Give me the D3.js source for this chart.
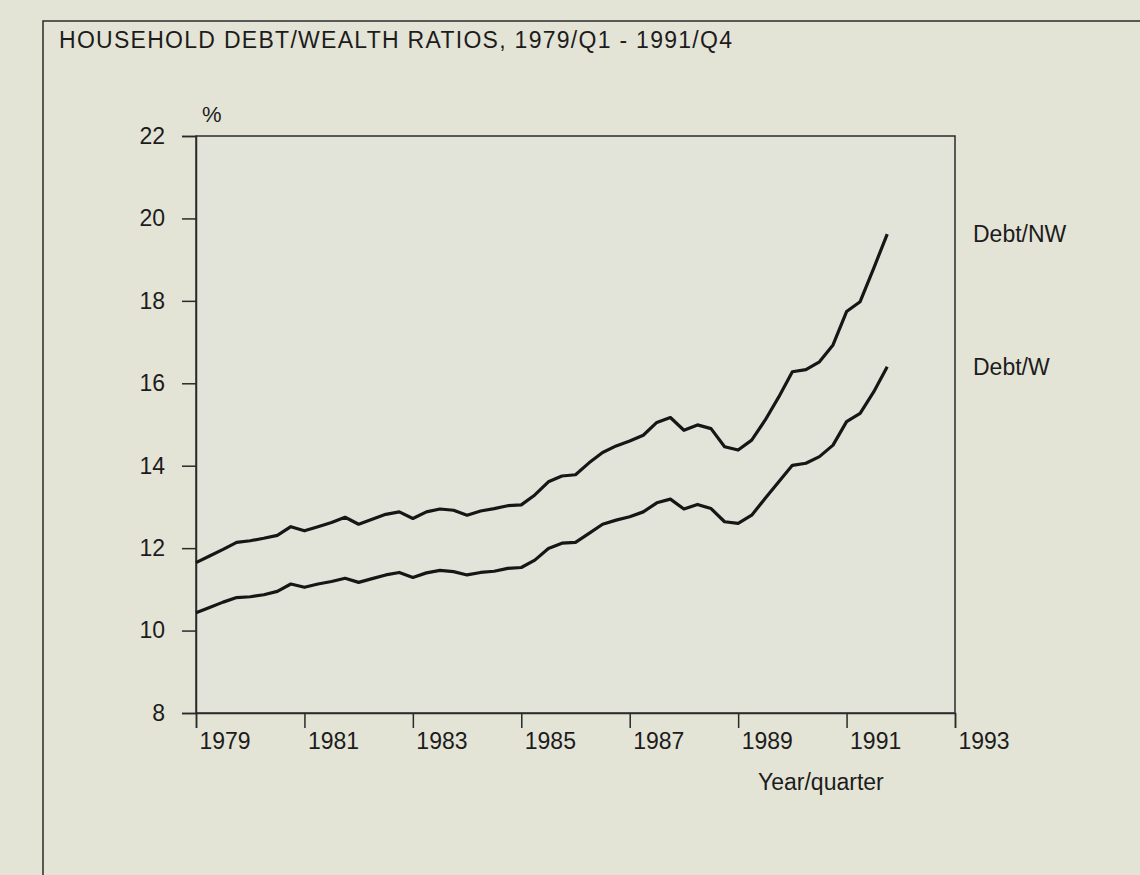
<!DOCTYPE html>
<html>
<head>
<meta charset="utf-8">
<script src="https://cdn.jsdelivr.net/npm/d3@7"></script>
<style>
  html, body { margin: 0; padding: 0; background: #e4e4d6; }
  svg { display: block; }
  text { font-family: "Liberation Sans", Arial, sans-serif; fill: #1c1c1c; }
</style>
</head>
<body>
<div id="chart"></div>
<script>
// quarters 1979/Q1 .. 1991/Q4
var startYear = 1979;
var debtNW = [
  11.65, 11.81, 11.97, 12.14, 12.18, 12.24, 12.31, 12.52, 12.42, 12.52, 12.62, 12.75,
  12.58, 12.70, 12.82, 12.88, 12.72, 12.88, 12.95, 12.92, 12.80, 12.90, 12.96, 13.03,
  13.05, 13.29, 13.61, 13.75, 13.78, 14.07, 14.32, 14.48, 14.60, 14.74, 15.05, 15.17,
  14.86, 14.99, 14.90, 14.46, 14.38, 14.62, 15.11, 15.67, 16.28, 16.33, 16.52, 16.93,
  17.74, 17.98, 18.79, 19.62
];
var debtW = [
  10.43, 10.56, 10.69, 10.80, 10.82, 10.87, 10.95, 11.13, 11.05, 11.13, 11.19, 11.27,
  11.17, 11.26, 11.35, 11.41, 11.29, 11.40, 11.46, 11.43, 11.35, 11.41, 11.44, 11.51,
  11.53, 11.71, 11.99, 12.12, 12.14, 12.36, 12.58, 12.68, 12.76, 12.88, 13.10, 13.19,
  12.95, 13.06, 12.96, 12.64, 12.60, 12.80, 13.21, 13.61, 14.01, 14.06, 14.22, 14.50,
  15.07, 15.27, 15.79, 16.40
];
var seriesNames = ["Debt/NW", "Debt/W"];
var yearTicks = [1979, 1981, 1983, 1985, 1987, 1989, 1991, 1993];
var pctTicks = [8, 10, 12, 14, 16, 18, 20, 22];

var W = 1140, H = 875;
var margin = {top: 136, left: 196, right: 185, bottom: 162};
var width = W - margin.left - margin.right;
var height = H - margin.top - margin.bottom;

var svg = d3.select("#chart").append("svg")
  .attr("width", W)
  .attr("height", H);

// page frame
svg.append("path")
  .attr("d", "M43," + H + "V21H" + W)
  .attr("fill", "none")
  .attr("stroke", "#2a2a2a")
  .attr("stroke-width", 1.5);

svg.append("text")
  .attr("x", 59).attr("y", 48)
  .attr("textLength", 673)
  .attr("lengthAdjust", "spacing")
  .style("font-size", "23px")
  .text("HOUSEHOLD DEBT/WEALTH RATIOS, 1979/Q1 - 1991/Q4");

var x = d3.scaleLinear().domain([1979, 1993]).range([0, width]);
var y = d3.scaleLinear().domain([8, 22]).range([height, 0]);

var g = svg.append("g")
  .attr("transform", "translate(" + [margin.left, margin.top] + ")");

// box
g.append("rect")
  .attr("width", width).attr("height", height)
  .attr("fill", "#e3e4d9")
  .attr("stroke", "#2a2a2a")
  .attr("stroke-width", 1.5);

var yAxis = g.append("g")
  .call(d3.axisLeft(y).tickValues(pctTicks).tickSize(14).tickPadding(17));
var xAxis = g.append("g")
  .attr("transform", "translate(0," + height + ")")
  .call(d3.axisBottom(x).tickValues(yearTicks).tickFormat(d3.format("d")).tickSize(15).tickPadding(5));

[yAxis, xAxis].forEach(function(a) {
  a.select(".domain").attr("stroke", "#2a2a2a").attr("stroke-width", 1.5);
  a.selectAll(".tick line").attr("stroke", "#2a2a2a").attr("stroke-width", 1.5);
  a.selectAll(".tick text")
    .attr("fill", "#1c1c1c")
    .style("font-size", "23px")
    .style("font-family", "'Liberation Sans', Arial, sans-serif");
});
xAxis.selectAll(".tick text").attr("text-anchor", "start").attr("x", 3).attr("dy", "0.71em");

g.append("text")
  .attr("x", 6).attr("y", -14)
  .style("font-size", "22px")
  .text("%");

g.append("text")
  .attr("x", 562).attr("y", height + 77)
  .style("font-size", "23px")
  .text("Year/quarter");

var line = d3.line()
  .x(function(d, i) { return x(startYear + i / 4); })
  .y(function(d) { return y(d); });

[debtNW, debtW].forEach(function(s, k) {
  g.append("path")
    .datum(s)
    .attr("d", line)
    .attr("fill", "none")
    .attr("stroke", "#161616")
    .attr("stroke-width", 3.2)
    .attr("stroke-linejoin", "round");
  g.append("text")
    .attr("x", width + 18)
    .attr("y", y(s[s.length - 1]))
    .attr("dy", "0.35em")
    .style("font-size", "23px")
    .text(seriesNames[k]);
});
</script>
</body>
</html>
